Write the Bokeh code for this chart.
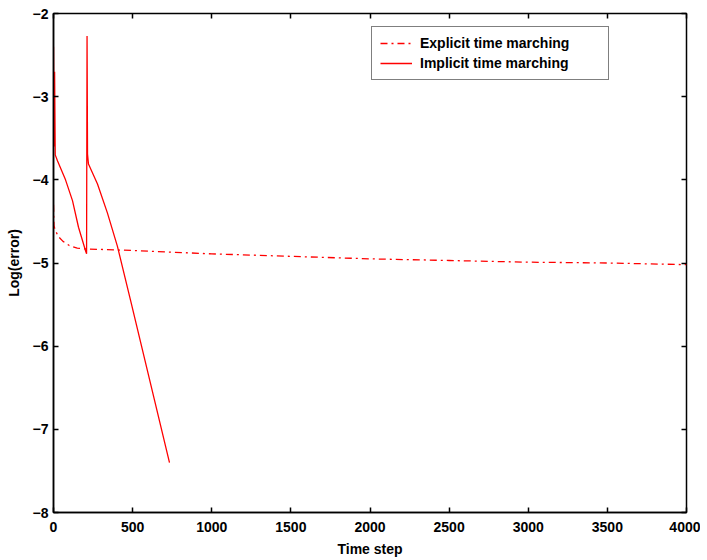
from bokeh.plotting import figure
from bokeh.models import LinearAxis, Range1d, FixedTicker, Legend, LegendItem, CustomJSTickFormatter
from bokeh.embed import file_html
from bokeh.resources import INLINE

# Data
explicit_t = [0, 3, 10, 30, 60, 100, 150, 200, 500, 1000, 1500, 2000, 2500, 3000, 3500, 4000]
explicit_v = [-4.3, -4.55, -4.6, -4.68, -4.74, -4.79, -4.82, -4.83, -4.85, -4.89, -4.92, -4.95, -4.97, -4.99, -5.0, -5.02]

implicit_t = [0, 4, 7, 11, 25, 76, 120, 158, 202, 209, 212, 215, 221, 278, 341, 404, 487, 733]
implicit_v = [-2.4, -3.6, -2.7, -3.7, -3.77, -4.0, -4.25, -4.57, -4.85, -4.89, -2.27, -3.69, -3.81, -4.05, -4.4, -4.8, -5.45, -7.4]

x_ticks = [0, 500, 1000, 1500, 2000, 2500, 3000, 3500, 4000]
y_ticks = [-8, -7, -6, -5, -4, -3, -2]

FONT = "Liberation Sans"

p = figure(width=700, height=559, output_backend="svg", toolbar_location=None,
           x_range=Range1d(0, 4000), y_range=Range1d(-8, -2),
           min_border_left=53, min_border_right=14, min_border_top=13, min_border_bottom=47,
           x_axis_label="Time step", y_axis_label="Log(error)")
p.grid.visible = False
p.outline_line_color = "black"
p.outline_line_width = 1.5
p.background_fill_color = "white"
p.border_fill_color = "white"

for ax in p.xaxis + p.yaxis:
    ax.major_tick_in = 5
    ax.major_tick_out = 0
    ax.minor_tick_in = 0
    ax.minor_tick_out = 0
    ax.axis_line_color = "black"
    ax.axis_line_width = 1.5
    ax.major_tick_line_width = 1.5
    ax.major_label_text_font = FONT
    ax.major_label_text_font_style = "bold"
    ax.major_label_text_font_size = "14px"
    ax.major_label_text_color = "black"
    ax.axis_label_text_font = FONT
    ax.axis_label_text_font_style = "bold"
    ax.axis_label_text_font_size = "14px"
    ax.axis_label_text_color = "black"
p.xaxis.ticker = FixedTicker(ticks=x_ticks)
p.yaxis.ticker = FixedTicker(ticks=y_ticks)
p.xaxis.major_label_standoff = 9
p.yaxis.major_label_standoff = 5
p.xaxis.axis_label_standoff = 6
p.yaxis.axis_label_standoff = 8

# mirrored ticks on top and right (no labels)
blank = CustomJSTickFormatter(code="return ''")
top = LinearAxis(ticker=FixedTicker(ticks=x_ticks), formatter=blank,
                 major_tick_in=5, major_tick_out=0, minor_tick_in=0, minor_tick_out=0,
                 axis_line_color=None, major_label_standoff=0, major_tick_line_width=1.5)
right = LinearAxis(ticker=FixedTicker(ticks=y_ticks), formatter=blank,
                   major_tick_in=5, major_tick_out=0, minor_tick_in=0, minor_tick_out=0,
                   axis_line_color=None, major_label_standoff=0, major_tick_line_width=1.5)
p.add_layout(top, "above")
p.add_layout(right, "right")

r_exp = p.line(explicit_t, explicit_v, line_color="#ff0000", line_width=1.3, line_dash="7 4 2 4")
r_imp = p.line(implicit_t, implicit_v, line_color="#ff0000", line_width=1.3)

legend = Legend(items=[LegendItem(label="Explicit time marching", renderers=[r_exp]),
                       LegendItem(label="Implicit time marching", renderers=[r_imp])],
                location=(318, 432))
legend.label_text_font = FONT
legend.label_text_font_style = "bold"
legend.label_text_font_size = "14px"
legend.label_text_color = "black"
legend.border_line_color = "black"
legend.border_line_width = 1.5
legend.background_fill_color = "white"
legend.glyph_width = 32
legend.glyph_height = 14
legend.spacing = 4
legend.padding = 8
legend.margin = 0
legend.label_standoff = 8
legend.label_width = 180
p.add_layout(legend, "center")

open("out.html", "w").write(file_html(p, INLINE))
